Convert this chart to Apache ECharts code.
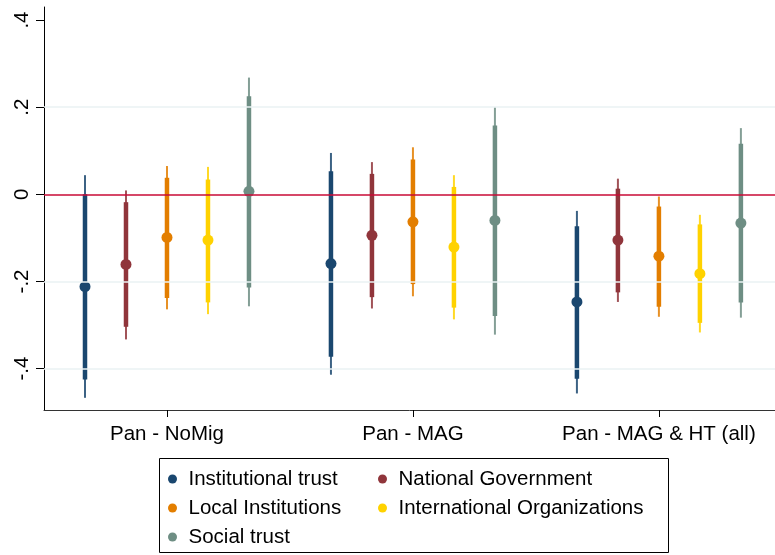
<!DOCTYPE html>
<html>
<head>
<meta charset="utf-8">
<title>Trust estimates by sample</title>
<script src="https://cdn.jsdelivr.net/npm/echarts@6/dist/echarts.min.js"></script>
<style>
  html, body { margin: 0; padding: 0; background: #fff; }
  #chart { width: 775px; height: 555px; }
</style>
</head>
<body>
<div id="chart"></div>
<script>
// Sample groups shown along the x axis
const groups = ['Pan - NoMig', 'Pan - MAG', 'Pan - MAG & HT (all)'];

// Outcome measures (one coloured estimate per group)
const measures = ['Institutional trust', 'National Government', 'Local Institutions',
                  'International Organizations', 'Social trust'];
const colors = ['#1a476f', '#90353b', '#e37e00', '#ffd200', '#6e8e84'];

// Point estimates, rows = measures, columns = groups
const pointEst = [
  [-0.212, -0.159, -0.247],
  [-0.161, -0.094, -0.105],
  [-0.099, -0.063, -0.142],
  [-0.105, -0.121, -0.182],
  [ 0.007, -0.060, -0.066]
];
// 90% confidence bounds
const ci90Low = [
  [-0.425, -0.373, -0.423],
  [-0.304, -0.236, -0.225],
  [-0.238, -0.206, -0.258],
  [-0.248, -0.260, -0.295],
  [-0.214, -0.279, -0.248]
];
const ci90High = [
  [ 0.000,  0.053, -0.073],
  [-0.018,  0.047,  0.013],
  [ 0.038,  0.080, -0.028],
  [ 0.034,  0.017, -0.069],
  [ 0.225,  0.158,  0.116]
];
// 95% confidence bounds
const ci95Low = [
  [-0.467, -0.414, -0.457],
  [-0.333, -0.262, -0.247],
  [-0.264, -0.234, -0.281],
  [-0.275, -0.287, -0.317],
  [-0.257, -0.322, -0.283]
];
const ci95High = [
  [ 0.044,  0.095, -0.038],
  [ 0.009,  0.074,  0.036],
  [ 0.065,  0.108, -0.005],
  [ 0.063,  0.044, -0.047],
  [ 0.268,  0.200,  0.152]
];

// Y axis ticks and their labels
const yTickValues = [-0.4, -0.2, 0, 0.2, 0.4];
const yTickLabels = ['-.4', '-.2', '0', '.2', '.4'];
const gridValues = [-0.4, -0.2, 0.2];

const FONT = '"Liberation Sans", Arial, Helvetica, sans-serif';

// Horizontal position of a measure inside its group (in axis units)
const slot = (i) => (i - (measures.length - 1) / 2) / 6;

const ciSeries = measures.map((name, i) => ({
  name: name,
  type: 'custom',
  z: 2,
  silent: true,
  itemStyle: { color: colors[i] },
  data: groups.map((g, j) => [j + 1 + slot(i), ci95Low[i][j], ci95High[i][j], ci90Low[i][j], ci90High[i][j]]),
  renderItem: function (params, api) {
    const x = api.value(0);
    const a95 = api.coord([x, api.value(1)]);
    const b95 = api.coord([x, api.value(2)]);
    const a90 = api.coord([x, api.value(3)]);
    const b90 = api.coord([x, api.value(4)]);
    return {
      type: 'group',
      children: [
        { type: 'line', shape: { x1: a95[0], y1: a95[1], x2: b95[0], y2: b95[1] },
          style: { stroke: colors[i], lineWidth: 2, opacity: 0.85, lineCap: 'butt' } },
        { type: 'line', shape: { x1: a90[0], y1: a90[1], x2: b90[0], y2: b90[1] },
          style: { stroke: colors[i], lineWidth: 4.5, lineCap: 'butt' } }
      ]
    };
  }
}));

const pointSeries = measures.map((name, i) => ({
  name: name,
  type: 'scatter',
  z: 4,
  symbol: 'circle',
  symbolSize: 11,
  silent: true,
  itemStyle: { color: colors[i], opacity: 1 },
  data: groups.map((g, j) => [j + 1 + slot(i), pointEst[i][j]])
}));

// Light reference grid lines
const gridSeries = {
  name: 'grid',
  type: 'scatter',
  z: 1,
  data: [],
  silent: true,
  markLine: {
    silent: true,
    symbol: 'none',
    label: { show: false },
    lineStyle: { color: '#eaf2f3', width: 1.5, type: 'solid' },
    data: gridValues.map(v => ({ yAxis: v }))
  }
};

// Zero reference line
const zeroSeries = {
  name: 'zero',
  type: 'scatter',
  z: 3,
  data: [],
  silent: true,
  markLine: {
    silent: true,
    symbol: 'none',
    label: { show: false },
    lineStyle: { color: '#c80a36', width: 1.6, type: 'solid' },
    data: [{ yAxis: 0 }]
  }
};

const legendCommon = {
  orient: 'vertical',
  selectedMode: false,
  icon: 'circle',
  itemWidth: 22,
  itemHeight: 9,
  itemGap: 7,
  padding: 0,
  textStyle: { fontFamily: FONT, fontSize: 20.5, color: '#000', lineHeight: 22 }
};

const chart = echarts.init(document.getElementById('chart'), null, { renderer: 'canvas' });
chart.setOption({
  backgroundColor: '#ffffff',
  animation: false,
  grid: { left: 44, right: 0, top: 7, bottom: 145, containLabel: false },
  xAxis: {
    type: 'value',
    min: 0.5,
    // the last group's half-slot is cut off by the right edge
    max: 3.472,
    axisLine: { show: true, onZero: false, lineStyle: { color: '#333', width: 1 } },
    axisTick: { show: true, customValues: [1, 2, 3], length: 7, lineStyle: { color: '#000', width: 1 } },
    axisLabel: {
      customValues: [1, 2, 3],
      formatter: v => groups[Math.round(v) - 1],
      fontFamily: FONT, fontSize: 20.5, color: '#000', margin: 14
    },
    splitLine: { show: false }
  },
  yAxis: {
    type: 'value',
    min: -0.495,
    max: 0.43,
    axisLine: { show: true, onZero: false, lineStyle: { color: '#000', width: 1 } },
    axisTick: { show: true, customValues: yTickValues, length: 8, lineStyle: { color: '#000', width: 1 } },
    axisLabel: {
      customValues: yTickValues,
      rotate: 90,
      formatter: v => yTickLabels[yTickValues.findIndex(t => Math.abs(t - v) < 1e-9)],
      fontFamily: FONT, fontSize: 20.5, color: '#000', margin: 11
    },
    splitLine: { show: false }
  },
  legend: [
    Object.assign({}, legendCommon, { left: 168, top: 468,
      data: [measures[0], measures[2], measures[4]] }),
    Object.assign({}, legendCommon, { left: 378, top: 468,
      data: [measures[1], measures[3]] })
  ],
  graphic: [{
    type: 'rect',
    z: -1,
    shape: { x: 159.5, y: 458.5, width: 509, height: 94 },
    style: { fill: '#fff', stroke: '#000', lineWidth: 1 }
  }],
  series: [gridSeries].concat(ciSeries, [zeroSeries], pointSeries)
});
</script>
</body>
</html>
